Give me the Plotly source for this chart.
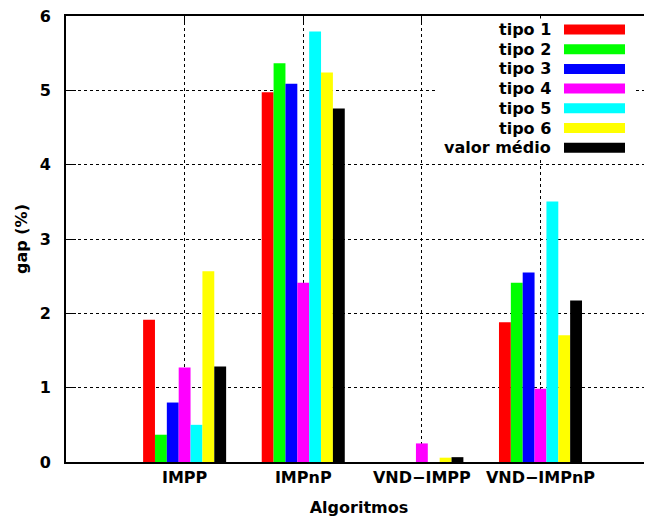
import plotly.graph_objects as go

categories = ["IMPP", "IMPnP", "VND\u2212IMPP", "VND\u2212IMPnP"]
series_names = ["tipo 1", "tipo 2", "tipo 3", "tipo 4", "tipo 5", "tipo 6", "valor médio"]
tipo1 = [1.915, 4.975, 0.0, 1.879]
tipo2 = [0.367, 5.365, 0.0, 2.413]
tipo3 = [0.80, 5.09, 0.0, 2.548]
tipo4 = [1.27, 2.41, 0.25, 0.987]
tipo5 = [0.50, 5.79, 0.0, 3.506]
tipo6 = [2.566, 5.24, 0.058, 1.704]
media = [1.285, 4.755, 0.065, 2.171]
series_values = [tipo1, tipo2, tipo3, tipo4, tipo5, tipo6, media]
colors = ["#ff0000", "#00ff00", "#0000ff", "#ff00ff", "#00ffff", "#ffff00", "#000000"]
y_ticks = [0, 1, 2, 3, 4, 5, 6]

FONT = "DejaVu Sans"
FS = 16
x_pos = list(range(len(categories)))

fig = go.Figure()
for name, vals, col in zip(series_names, series_values, colors):
    fig.add_trace(go.Bar(x=x_pos, y=vals, name=name, marker=dict(color=col, line=dict(width=0)),
                         showlegend=False))

# custom legend (text on the left, wide colour sample on the right)
W, H = 586.0, 446.0
def px_x(p):
    return (p - 66) / W
def px_y(p):
    return 1 - (p - 16.5) / H

shapes = [dict(type="rect", xref="paper", yref="paper", x0=px_x(436), x1=px_x(634),
               y0=px_y(159), y1=px_y(19), fillcolor="white", line=dict(width=0), layer="above")]
annotations = []
for i, (name, col) in enumerate(zip(series_names, colors)):
    cy = 30 + 19.7 * i
    annotations.append(dict(x=px_x(553), y=px_y(cy), xref="paper", yref="paper", text="<b>%s</b>" % name,
                            showarrow=False, xanchor="right", yanchor="middle",
                            font=dict(family=FONT, size=FS, color="black")))
    shapes.append(dict(type="rect", xref="paper", yref="paper", x0=px_x(564), x1=px_x(625),
                       y0=px_y(cy + 5), y1=px_y(cy - 5), fillcolor=col, line=dict(width=0), layer="above"))

fig.update_layout(
    width=652, height=522,
    margin=dict(l=58, r=8, t=8, b=68, autoexpand=False),
    paper_bgcolor="white", plot_bgcolor="white",
    barmode="group", bargap=0.3, bargroupgap=0,
    font=dict(family=FONT, size=FS, color="black"),
    shapes=shapes, annotations=annotations,
    xaxis=dict(
        range=[-1, 3.94], tickvals=x_pos, ticktext=["<b>%s</b>" % c for c in categories],
        showline=True, linecolor="black", linewidth=2, mirror="ticks",
        ticks="inside", ticklen=7, tickcolor="black", tickwidth=1,
        showgrid=True, gridcolor="black", griddash="dot", gridwidth=1,
        zeroline=False, layer="below traces", ticklabeloverflow="allow",
        title=dict(text="<b>Algoritmos</b>", standoff=16, font=dict(family=FONT, size=FS)),
        tickfont=dict(family=FONT, size=FS),
    ),
    yaxis=dict(
        range=[0, 6], tickvals=y_ticks, ticktext=["<b>%d</b>" % v for v in y_ticks],
        showline=True, linecolor="black", linewidth=2, mirror=False,
        ticks="inside", ticklen=10, tickcolor="black", tickwidth=1, ticklabelstandoff=10,
        showgrid=True, gridcolor="black", griddash="dot", gridwidth=1,
        zeroline=False, layer="below traces", ticklabeloverflow="allow",
        title=dict(text="<b>gap (%)</b>", standoff=8, font=dict(family=FONT, size=FS)),
        tickfont=dict(family=FONT, size=FS),
    ),
)

fig.write_html("out.html")
